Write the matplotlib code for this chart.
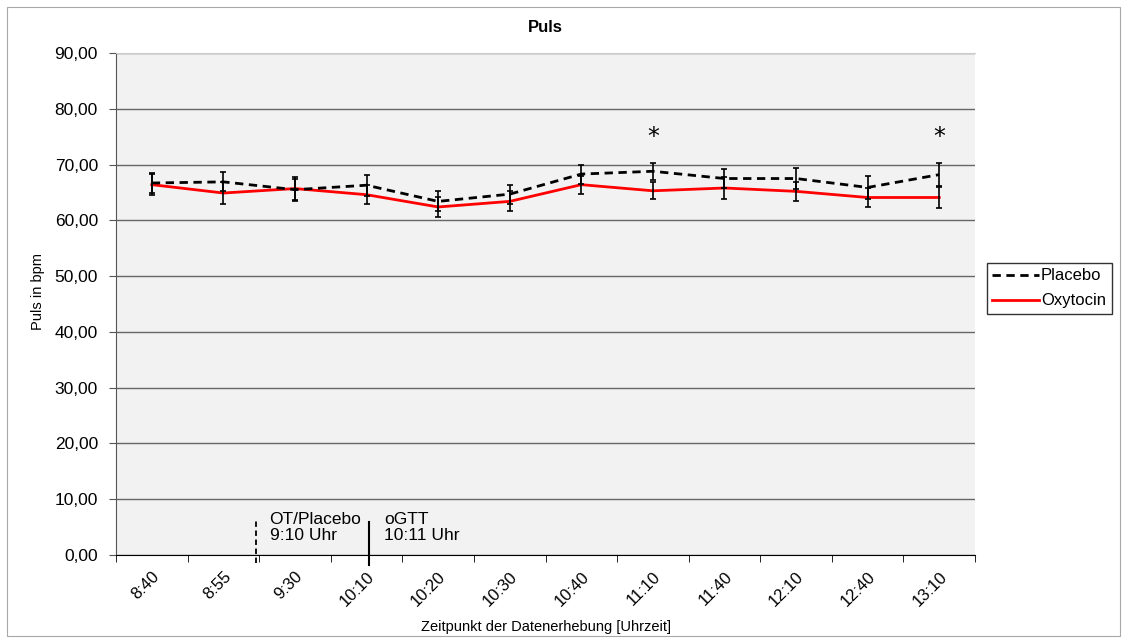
import numpy as np
import matplotlib.pyplot as plt
from matplotlib.patches import Rectangle

plt.rcParams['font.family'] = ['Liberation Sans', 'DejaVu Sans']

# Daten
zeiten = ["8:40", "8:55", "9:30", "10:10", "10:20", "10:30",
          "10:40", "11:10", "11:40", "12:10", "12:40", "13:10"]
placebo = [66.7, 66.9, 65.5, 66.3, 63.4, 64.7, 68.3, 68.8, 67.5, 67.5, 65.9, 68.2]
placebo_err = [1.8, 1.7, 2.0, 1.9, 1.8, 1.7, 1.7, 1.5, 1.7, 1.8, 2.0, 2.1]
oxytocin = [66.4, 64.9, 65.7, 64.6, 62.4, 63.4, 66.4, 65.3, 65.8, 65.2, 64.1, 64.1]
oxytocin_err = [1.9, 1.9, 2.0, 1.7, 1.8, 1.8, 1.6, 1.5, 1.9, 1.7, 1.7, 1.8]
signifikant = ["11:10", "13:10"]
stern_y = 75.0

x = np.arange(len(zeiten))

fig = plt.figure(figsize=(11.25, 6.42), dpi=100)
ax = fig.add_axes([0.1031, 0.1355, 0.7636, 0.7819])
ax.set_facecolor("#f2f2f2")

# Rahmen um das ganze Diagramm
fig.patches.append(Rectangle((0.0062, 0.009), 0.9893, 0.98, transform=fig.transFigure,
                             fill=False, edgecolor="#a8a8a8", linewidth=0.8))

ax.errorbar(x, placebo, yerr=placebo_err, fmt="none", ecolor="black",
            elinewidth=1.2, capsize=2.5, capthick=1.2, zorder=3)
ax.errorbar(x, oxytocin, yerr=oxytocin_err, fmt="none", ecolor="black",
            elinewidth=1.2, capsize=2.5, capthick=1.2, zorder=3)
ax.plot(x, placebo, color="black", linestyle=(0, (3, 2)), linewidth=2, label="Placebo", zorder=4)
ax.plot(x, oxytocin, color="red", linewidth=2, label="Oxytocin", zorder=2)

for z in signifikant:
    ax.text(zeiten.index(z), stern_y, "*", ha="center", va="center", fontsize=17,
            family="DejaVu Sans")

# Marker für Gabe und oGTT
ax.plot([1.455, 1.455], [-1.4, 6.2], color="black", linestyle=(0, (3, 2)), linewidth=1.3,
        clip_on=False, zorder=5)
ax.plot([3.03, 3.03], [-1.8, 6.0], color="black", linewidth=1.5, clip_on=False, zorder=5)
ax.text(1.646, 7.8, "OT/Placebo\n9:10 Uhr", ha="left", va="top", fontsize=12.5, linespacing=1.1)
ax.text(3.25, 7.8, "oGTT\n10:11 Uhr", ha="left", va="top", fontsize=12.5, linespacing=1.1)

ax.set_xlim(-0.5, len(zeiten) - 0.5)
ax.set_ylim(0, 90)
ax.set_yticks(np.arange(0, 91, 10))
ax.set_yticklabels([f"{v:.2f}".replace(".", ",") for v in np.arange(0, 91, 10)], fontsize=12.5)
ax.set_xticks(x)
ax.set_xticklabels(zeiten, rotation=45, ha="right", rotation_mode="anchor", fontsize=12)
ax.set_xticks(np.arange(-0.5, len(zeiten), 1), minor=True)
ax.tick_params(axis="x", which="major", length=0, pad=10)
ax.tick_params(axis="x", which="minor", length=5, direction="out")
ax.tick_params(axis="y", length=5, direction="out", pad=8, color="#555555")

ax.grid(axis="y", color="#666666", linewidth=1)
ax.set_axisbelow(True)
ax.spines["right"].set_visible(False)
ax.spines["top"].set_color("#cccccc")
ax.spines["left"].set_color("#555555")
ax.spines["bottom"].set_color("black")

ax.set_title("Puls", fontsize=12, fontweight="bold", pad=15)
ax.set_ylabel("Puls in bpm", fontsize=10.5, labelpad=10)
ax.yaxis.set_label_coords(-0.0827, 0.525)
ax.set_xlabel("Zeitpunkt der Datenerhebung [Uhrzeit]", fontsize=10.5, labelpad=8)

fig.legend(loc="upper left", bbox_to_anchor=(0.877, 0.591), borderaxespad=0, fontsize=12,
           frameon=True, fancybox=False, edgecolor="black", handlelength=2.8,
           handletextpad=0.1, borderpad=0.35, labelspacing=0.6)

fig.savefig("out.png", dpi=100)
